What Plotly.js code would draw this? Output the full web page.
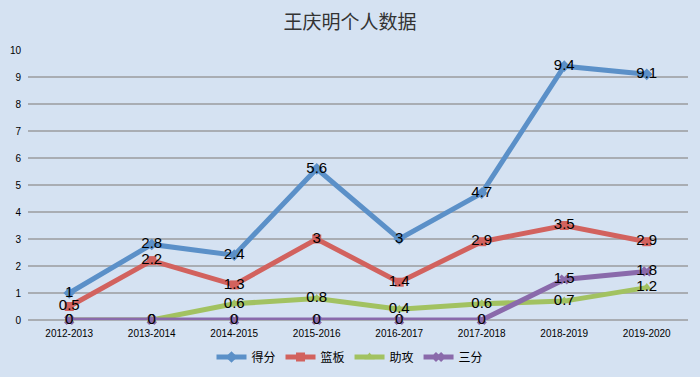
<!DOCTYPE html>
<html>
<head>
<meta charset="utf-8">
<script src="https://cdn.plot.ly/plotly-3.0.1.min.js"></script>
<style>html,body{margin:0;padding:0;background:#d5e2f2;}</style>
</head>
<body>
<div id="chart" style="width:700px;height:377px;"></div>
<script>
const seasons = ["2012-2013","2013-2014","2014-2015","2015-2016","2016-2017","2017-2018","2018-2019","2019-2020"];
const points = [1, 2.8, 2.4, 5.6, 3, 4.7, 9.4, 9.1];
const rebounds = [0.5, 2.2, 1.3, 3, 1.4, 2.9, 3.5, 2.9];
const assists = [0, 0, 0.6, 0.8, 0.4, 0.6, 0.7, 1.2];
const threes = [0, 0, 0, 0, 0, 0, 1.5, 1.8];
const seriesNames = ["得分","篮板","助攻","三分"];

const colors = ["#5b90c8", "#d2625e", "#a2c261", "#8a6aab"];
const symbols = ["diamond", "square", "triangle-up", "x"];
const data = [points, rebounds, assists, threes];

const traces = data.map((vals, i) => ({
  type: "scatter",
  mode: "lines+markers+text",
  name: seriesNames[i],
  x: seasons,
  y: vals,
  text: vals.map(v => String(v)),
  textposition: "middle center",
  textfont: {family: "Liberation Sans, Arial, sans-serif", size: 15, color: "#000"},
  line: {color: colors[i], width: 5},
  marker: {symbol: symbols[i], size: 9, color: colors[i], line: {color: "#ffffff", width: 0}},
  cliponaxis: false
}));

const layout = {
  width: 700,
  height: 377,
  paper_bgcolor: "#d5e2f2",
  plot_bgcolor: "#d5e2f2",
  margin: {l: 28, r: 12, t: 50, b: 57, autoexpand: false},
  title: {
    text: "王庆明个人数据",
    font: {family: "Noto Sans CJK SC, sans-serif", size: 19, color: "#333"},
    x: 0.5, xanchor: "center", y: 0.942, yanchor: "middle"
  },
  xaxis: {
    type: "category",
    range: [-0.5, 7.5],
    showgrid: false,
    showline: false,
    zeroline: false,
    ticks: "",
    automargin: false,
    ticklabelstandoff: 6,
    tickfont: {family: "Liberation Sans, Arial, sans-serif", size: 10, color: "#000"},
    fixedrange: true
  },
  yaxis: {
    range: [0, 10],
    dtick: 1,
    showgrid: true,
    gridcolor: "#a9adb3",
    gridwidth: 1.5,
    zeroline: true,
    zerolinecolor: "#a9adb3",
    zerolinewidth: 1.5,
    ticks: "",
    automargin: false,
    ticklabelstandoff: 6,
    tickfont: {family: "Liberation Sans, Arial, sans-serif", size: 10, color: "#000"},
    fixedrange: true
  },
  legend: {
    orientation: "h",
    xref: "container", yref: "container",
    x: 0.5, xanchor: "center",
    y: 0.053, yanchor: "middle",
    font: {family: "Noto Sans CJK SC, sans-serif", size: 12, color: "#000"},
    bgcolor: "rgba(0,0,0,0)",
    itemwidth: 30
  },
  showlegend: true
};

Plotly.newPlot("chart", traces, layout, {displayModeBar: false, staticPlot: true});
</script>
</body>
</html>
